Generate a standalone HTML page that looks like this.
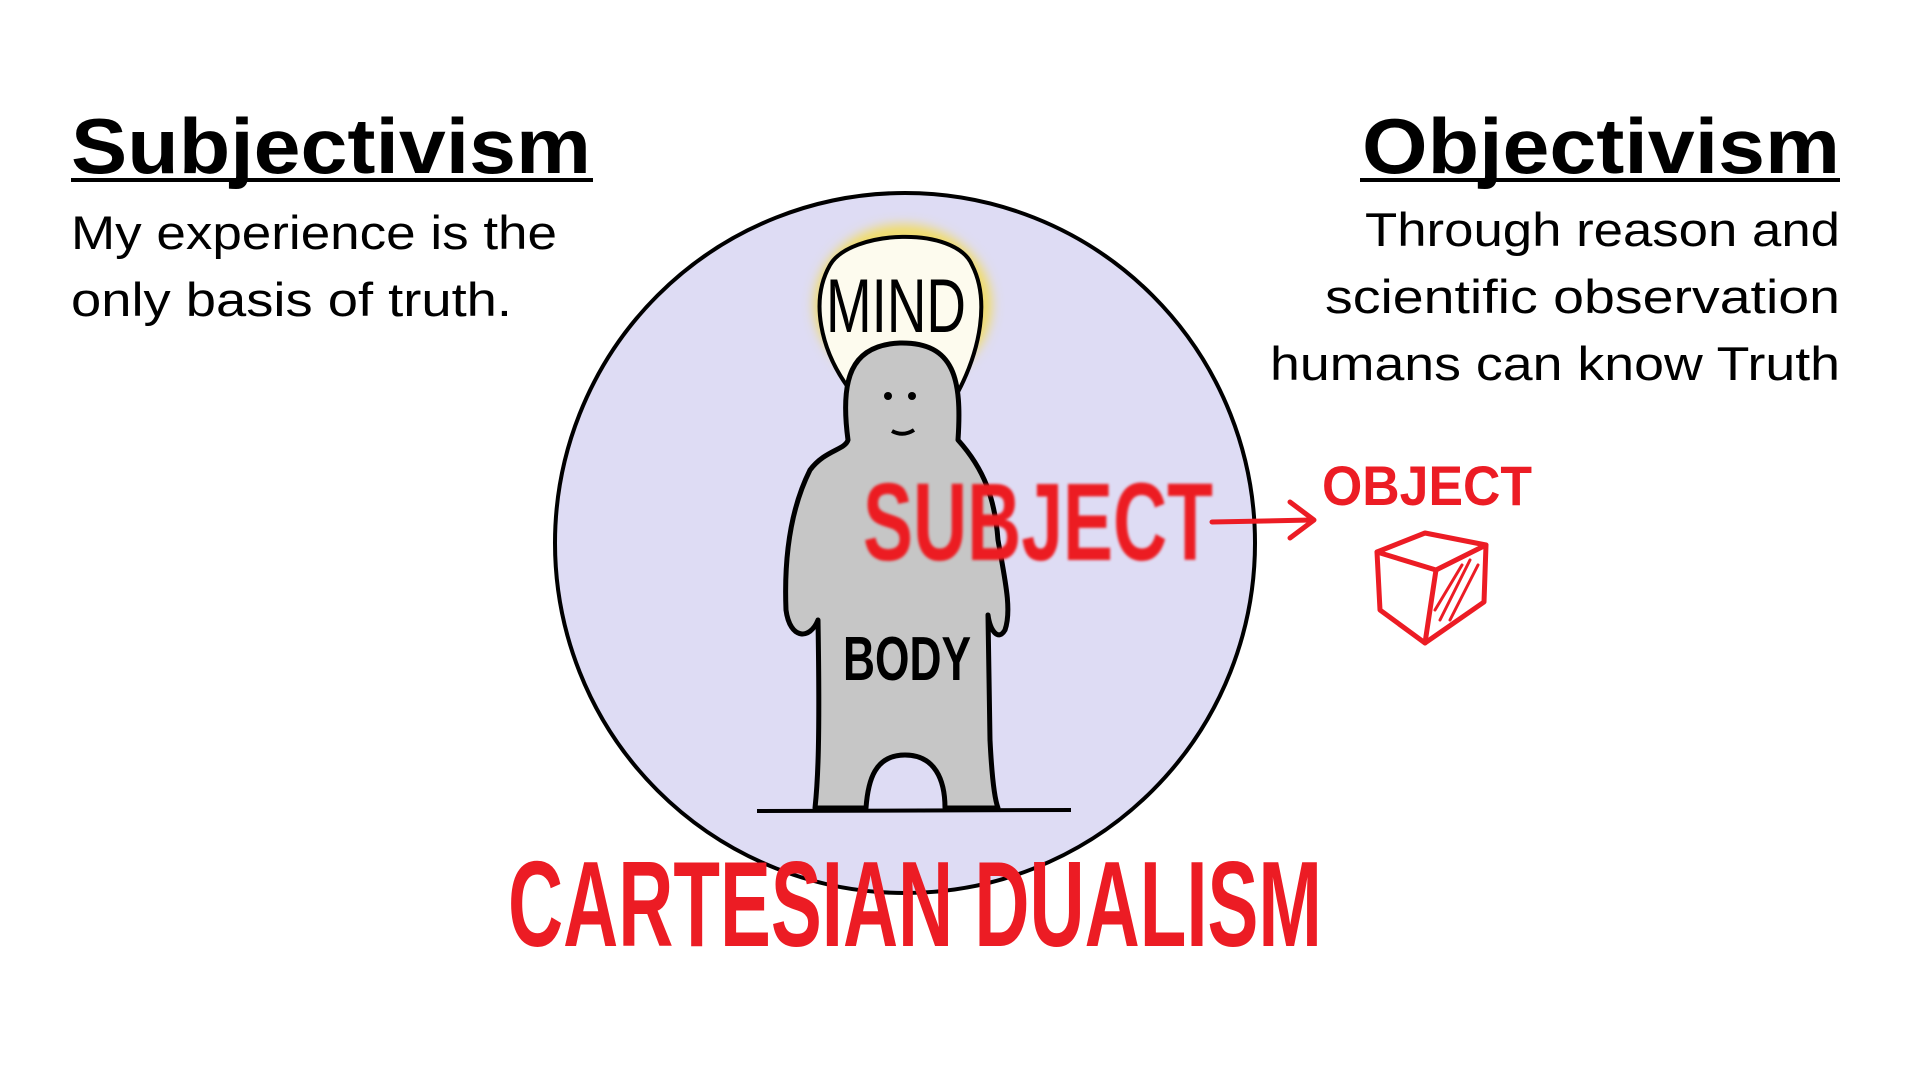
<!DOCTYPE html>
<html><head><meta charset="utf-8"><style>
html,body{margin:0;padding:0;background:#fff;}
svg{display:block}
</style></head><body>
<svg width="1920" height="1080" viewBox="0 0 1920 1080" xmlns="http://www.w3.org/2000/svg">
<defs><filter id="b" x="-50%" y="-50%" width="200%" height="200%"><feGaussianBlur stdDeviation="6"/></filter>
<filter id="b2"><feGaussianBlur stdDeviation="1.2"/></filter></defs>
<rect width="1920" height="1080" fill="#fff"/>
<g font-family="Liberation Sans, sans-serif" fill="#000">
<text x="71" y="173" font-size="78" font-weight="bold" textLength="520" lengthAdjust="spacingAndGlyphs">Subjectivism</text>
<rect x="71" y="178" width="522" height="4"/>
<text x="71" y="249" font-size="47" textLength="486" lengthAdjust="spacingAndGlyphs">My experience is the</text>
<text x="71" y="316" font-size="47" textLength="441" lengthAdjust="spacingAndGlyphs">only basis of truth.</text>
<text x="1362" y="173" font-size="78" font-weight="bold" textLength="478" lengthAdjust="spacingAndGlyphs">Objectivism</text>
<rect x="1360" y="178" width="480" height="4"/>
<text x="1365" y="246" font-size="47" textLength="475" lengthAdjust="spacingAndGlyphs">Through reason and</text>
<text x="1325" y="313" font-size="47" textLength="515" lengthAdjust="spacingAndGlyphs">scientific observation</text>
<text x="1270" y="380" font-size="47" textLength="570" lengthAdjust="spacingAndGlyphs">humans can know Truth</text>
</g>
<circle cx="905" cy="543" r="350" fill="#dedcf4" stroke="#000" stroke-width="4"/>
<ellipse cx="903" cy="305" rx="80" ry="72" fill="none" stroke="#f3dc58" stroke-width="16" filter="url(#b)"/>
<path d="M850,390 C820,350 810,300 830,265 C850,230 955,225 972,265 C990,300 980,350 958,392" fill="#fdfbee" stroke="#000" stroke-width="4"/>
<path d="M848,440 C840,380 850,345 900,343 C955,342 962,380 958,440 C985,470 995,500 998,540 C1005,580 1012,610 1005,630 C998,642 990,630 988,615 L990,740 C992,780 995,800 998,808 L945,808 C945,780 935,755 905,755 C875,755 868,780 866,808 L815,808 C818,780 820,740 818,620 C810,640 790,640 786,610 C784,560 790,510 810,470 C825,450 845,450 848,440 Z" fill="#c6c6c6" stroke="#000" stroke-width="5" stroke-linejoin="round"/>
<circle cx="888" cy="396" r="4"/><circle cx="912" cy="396" r="4"/>
<path d="M892,431 Q903,437 914,430" stroke="#000" stroke-width="4" fill="none"/>
<line x1="757" y1="811" x2="1071" y2="810" stroke="#000" stroke-width="4"/>
<g font-family="Liberation Sans Narrow, Liberation Sans, sans-serif">
<text x="826" y="332" font-size="76" textLength="140" lengthAdjust="spacingAndGlyphs">MIND</text>
<text x="843" y="680" font-size="62" font-weight="bold" textLength="128" lengthAdjust="spacingAndGlyphs">BODY</text>
</g>
<g fill="#ec1c24" font-family="Liberation Sans Narrow, Liberation Sans, sans-serif" font-weight="bold">
<text x="863" y="560" font-size="110" filter="url(#b2)" textLength="350" lengthAdjust="spacingAndGlyphs">SUBJECT</text>
<text x="1322" y="505" font-size="56" textLength="210" lengthAdjust="spacingAndGlyphs">OBJECT</text>
<text x="508" y="946" font-size="122" textLength="814" lengthAdjust="spacingAndGlyphs">CARTESIAN  DUALISM</text>
</g>
<g stroke="#ec1c24" stroke-width="5" fill="none" stroke-linecap="round" stroke-linejoin="round">
<path d="M1212,522 L1312,520"/><path d="M1290,502 L1314,520 L1290,538"/>
<path d="M1377,552 L1425,533 L1486,545 L1436,570 Z"/>
<path d="M1377,552 L1380,610 L1425,643 L1436,570"/>
<path d="M1486,545 L1484,602 L1425,643"/>
<path d="M1440,620 L1470,560 M1450,620 L1478,565 M1435,610 L1462,565" stroke-width="3"/>
</g>
</svg>
</body></html>
